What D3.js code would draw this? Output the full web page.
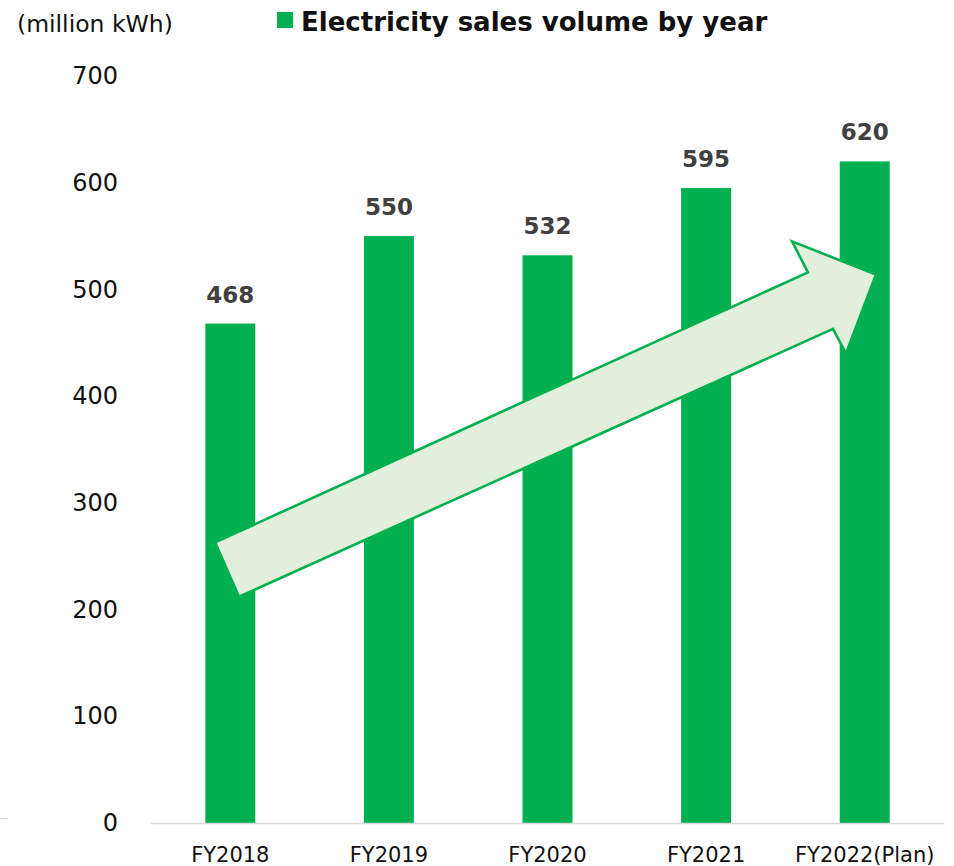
<!DOCTYPE html>
<html>
<head>
<meta charset="utf-8">
<script src="https://cdn.jsdelivr.net/npm/d3@7"></script>
<style>
  html, body { margin: 0; padding: 0; background: #fff; }
  svg { display: block; }
</style>
</head>
<body>
<svg id="chart" width="954" height="866"></svg>
<script>
// Electricity sales volume (million kWh) by fiscal year
const categories = ["FY2018", "FY2019", "FY2020", "FY2021", "FY2022(Plan)"];
const salesVolume = [468, 550, 532, 595, 620];
const yTicks = [0, 100, 200, 300, 400, 500, 600, 700];

// Trend arrow outline: [position along category axis (in bands), value]
const trendArrow = [
  [0.404, 263], [4.142, 516], [4.042, 545], [4.571, 514],
  [4.382, 440], [4.300, 463], [0.555, 212]
];

const GREEN = "#00b050";
const FONT = "'DejaVu Sans', Verdana, sans-serif";

const svg = d3.select("#chart");
const plot = { left: 151, right: 944, top: 76, bottom: 823 };

const x = d3.scaleBand()
  .domain(categories)
  .range([plot.left, plot.right])
  .paddingInner(0.685)
  .paddingOuter(0.3425);

const xPos = d3.scaleLinear()
  .domain([0, categories.length])
  .range([plot.left, plot.right]);

const y = d3.scaleLinear()
  .domain([0, 700])
  .range([plot.bottom, plot.top]);

// Bars
svg.append("g")
  .selectAll("rect")
  .data(salesVolume)
  .join("rect")
  .attr("x", (d, i) => x(categories[i]))
  .attr("y", d => y(d))
  .attr("width", x.bandwidth())
  .attr("height", d => y(0) - y(d))
  .attr("fill", GREEN);

// Value labels
svg.append("g")
  .selectAll("text")
  .data(salesVolume)
  .join("text")
  .attr("x", (d, i) => x(categories[i]) + x.bandwidth() / 2)
  .attr("y", d => y(d) - 21)
  .attr("text-anchor", "middle")
  .attr("font-family", FONT)
  .attr("font-weight", "bold")
  .attr("font-size", 23)
  .attr("fill", "#404040")
  .text(d => d);

// Trend arrow
svg.append("path")
  .datum(trendArrow)
  .attr("d", d3.line().x(d => xPos(d[0])).y(d => y(d[1])).curve(d3.curveLinearClosed))
  .attr("fill", "#e2efda")
  .attr("stroke", GREEN)
  .attr("stroke-width", 2.6)
  .attr("stroke-linejoin", "miter");

// Baseline axis
const xAxis = d3.axisBottom(x).tickSize(0).tickPadding(0);
const gx = svg.append("g")
  .attr("transform", `translate(0,${plot.bottom})`)
  .call(xAxis);
gx.select(".domain")
  .attr("d", `M${plot.left},0.5H${plot.right}`)
  .attr("stroke", "#d9d9d9")
  .attr("stroke-width", 1.6);
gx.selectAll(".tick text")
  .attr("y", 39)
  .attr("dy", 0)
  .attr("font-family", FONT)
  .attr("font-size", 21)
  .attr("fill", "#111");

// Small axis stub at the left edge
svg.append("line")
  .attr("x1", 0).attr("x2", 8)
  .attr("y1", plot.bottom - 4.5).attr("y2", plot.bottom - 4.5)
  .attr("stroke", "#d9d9d9")
  .attr("stroke-width", 1.4);

// Y axis labels (no axis line)
const yAxis = d3.axisLeft(y).tickValues(yTicks).tickSize(0).tickPadding(0);
const gy = svg.append("g")
  .attr("transform", "translate(118,0)")
  .call(yAxis);
gy.select(".domain").remove();
gy.selectAll(".tick text")
  .attr("x", 0)
  .attr("font-family", FONT)
  .attr("font-size", 24)
  .attr("fill", "#111");

// Unit label
svg.append("text")
  .attr("x", 17)
  .attr("y", 32)
  .attr("font-family", FONT)
  .attr("font-size", 23.5)
  .attr("fill", "#111")
  .text("(million kWh)");

// Legend
svg.append("rect")
  .attr("x", 277).attr("y", 12)
  .attr("width", 16).attr("height", 16)
  .attr("fill", GREEN);
svg.append("text")
  .attr("x", 301)
  .attr("y", 31)
  .attr("font-family", FONT)
  .attr("font-weight", "bold")
  .attr("font-size", 26)
  .attr("fill", "#111")
  .text("Electricity sales volume by year");
</script>
</body>
</html>
